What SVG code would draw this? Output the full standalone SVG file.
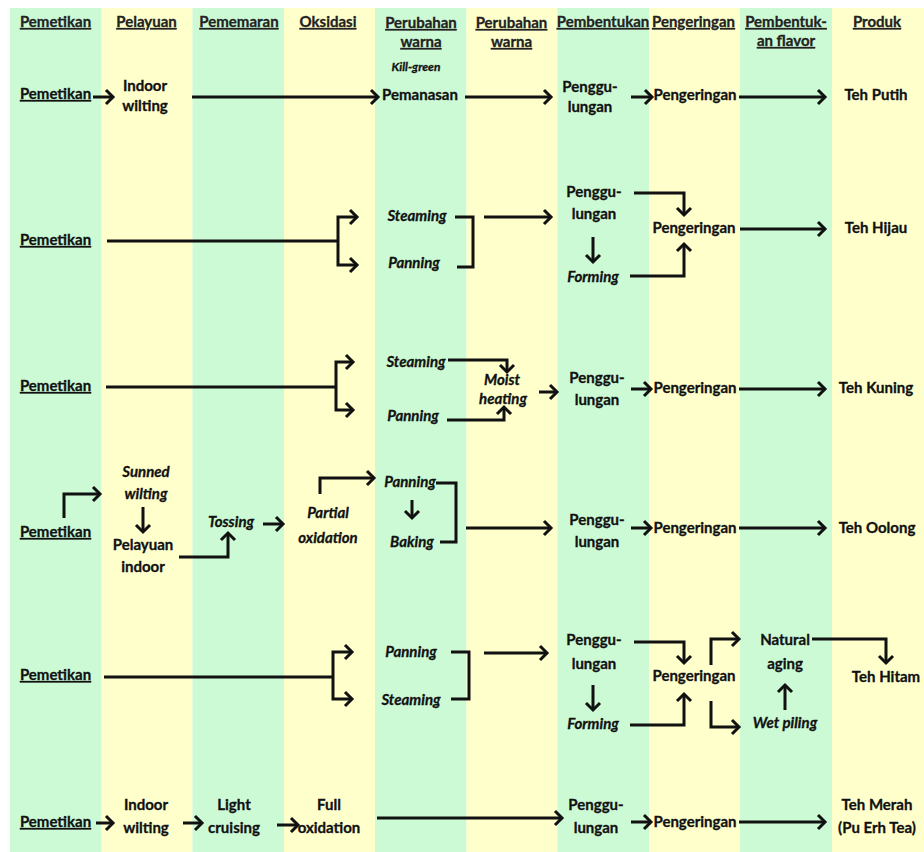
<svg xmlns="http://www.w3.org/2000/svg" width="924" height="852" viewBox="0 0 924 852">
  <defs>
    <marker id="ah" markerUnits="userSpaceOnUse" markerWidth="14" markerHeight="18" viewBox="0 0 14 18" refX="11" refY="9" orient="auto">
      <path d="M4,2 L11,9 L4,16" fill="none" stroke="#111" stroke-width="3" stroke-linejoin="miter"/>
    </marker>
  </defs>
  <style>
    text { font-family: Lato, "Liberation Sans", Arial, sans-serif; font-weight: bold; font-size: 15px; fill: #111; stroke: #111; stroke-width: 0.3px; text-anchor: middle; }
    .it { font-style: italic; }
    .sm { font-size: 12px; }
    .ul { text-decoration: underline; }
    .hd { fill: #222; stroke: #222; text-decoration: underline; }
    .g { fill: #CCFAD4; }
    .y { fill: #FFFFCC; }
    #connectors path { fill: none; stroke: #111; stroke-width: 3; }
    #connectors .a { marker-end: url(#ah); }
  </style>

  <!-- column bands -->
  <rect width="924" height="852" fill="#fff"/>
  <rect class="g" x="10" y="8" width="91.5" height="844"/>
  <rect class="y" x="101.5" y="8" width="91" height="844"/>
  <rect class="g" x="192.5" y="8" width="91.5" height="844"/>
  <rect class="y" x="284" y="8" width="91" height="844"/>
  <rect class="g" x="375" y="8" width="91.5" height="844"/>
  <rect class="y" x="466.5" y="8" width="91" height="844"/>
  <rect class="g" x="557.5" y="8" width="91.5" height="844"/>
  <rect class="y" x="649" y="8" width="91" height="844"/>
  <rect class="g" x="740" y="8" width="92" height="844"/>
  <rect class="y" x="832" y="8" width="92" height="844"/>

  <!-- column headers -->
  <g id="headers">
    <text class="hd" x="55.5" y="27">Pemetikan</text>
    <text class="hd" x="146.5" y="27">Pelayuan</text>
    <text class="hd" x="239" y="27">Pememaran</text>
    <text class="hd" x="328" y="27">Oksidasi</text>
    <text class="hd" x="421" y="28">Perubahan</text>
    <text class="hd" x="421" y="47">warna</text>
    <text class="hd" x="511.5" y="28">Perubahan</text>
    <text class="hd" x="511.5" y="47">warna</text>
    <text class="hd" x="603" y="27">Pembentukan</text>
    <text class="hd" x="693.5" y="27">Pengeringan</text>
    <text class="hd" x="786" y="27">Pembentuk-</text>
    <text class="hd" x="786" y="46">an flavor</text>
    <text class="hd" x="877" y="27">Produk</text>
  </g>

  <!-- row 1: Teh Putih -->
  <g id="r1-pemetikan"><text class="ul" x="55.5" y="99">Pemetikan</text></g>
  <g id="r1-indoor-wilting"><text x="145" y="91">Indoor</text><text x="145" y="111">wilting</text></g>
  <g id="r1-kill-green"><text class="it sm" x="416" y="71">Kill-green</text></g>
  <g id="r1-pemanasan"><text x="420" y="100">Pemanasan</text></g>
  <g id="r1-penggulungan"><text x="590" y="92">Penggu-</text><text x="590" y="112">lungan</text></g>
  <g id="r1-pengeringan"><text x="695" y="100">Pengeringan</text></g>
  <g id="r1-teh-putih"><text x="876" y="100">Teh Putih</text></g>

  <!-- row 2: Teh Hijau -->
  <g id="r2-pemetikan"><text class="ul" x="55.5" y="245">Pemetikan</text></g>
  <g id="r2-steaming"><text class="it" x="417" y="221">Steaming</text></g>
  <g id="r2-panning"><text class="it" x="414" y="268">Panning</text></g>
  <g id="r2-penggulungan"><text x="594" y="197">Penggu-</text><text x="594" y="219">lungan</text></g>
  <g id="r2-forming"><text class="it" x="593" y="282">Forming</text></g>
  <g id="r2-pengeringan"><text x="694" y="233">Pengeringan</text></g>
  <g id="r2-teh-hijau"><text x="876" y="233">Teh Hijau</text></g>

  <!-- row 3: Teh Kuning -->
  <g id="r3-pemetikan"><text class="ul" x="55.5" y="391">Pemetikan</text></g>
  <g id="r3-steaming"><text class="it" x="416" y="367">Steaming</text></g>
  <g id="r3-panning"><text class="it" x="413" y="421">Panning</text></g>
  <g id="r3-moist-heating"><text class="it" x="502" y="385">Moist</text><text class="it" x="503" y="404">heating</text></g>
  <g id="r3-penggulungan"><text x="597" y="383">Penggu-</text><text x="597" y="405">lungan</text></g>
  <g id="r3-pengeringan"><text x="695" y="393">Pengeringan</text></g>
  <g id="r3-teh-kuning"><text x="876" y="393">Teh Kuning</text></g>

  <!-- row 4: Teh Oolong -->
  <g id="r4-pemetikan"><text class="ul" x="55.5" y="537">Pemetikan</text></g>
  <g id="r4-sunned-wilting"><text class="it" x="146" y="477">Sunned</text><text class="it" x="146" y="499">wilting</text></g>
  <g id="r4-pelayuan-indoor"><text x="143" y="550">Pelayuan</text><text x="143" y="572">indoor</text></g>
  <g id="r4-tossing"><text class="it" x="231" y="527">Tossing</text></g>
  <g id="r4-partial-oxidation"><text class="it" x="328" y="518">Partial</text><text class="it" x="328" y="543">oxidation</text></g>
  <g id="r4-panning"><text class="it" x="410" y="487">Panning</text></g>
  <g id="r4-baking"><text class="it" x="412" y="547">Baking</text></g>
  <g id="r4-penggulungan"><text x="597" y="525">Penggu-</text><text x="597" y="547">lungan</text></g>
  <g id="r4-pengeringan"><text x="695" y="533">Pengeringan</text></g>
  <g id="r4-teh-oolong"><text x="877" y="533">Teh Oolong</text></g>

  <!-- row 5: Teh Hitam -->
  <g id="r5-pemetikan"><text class="ul" x="55.5" y="680">Pemetikan</text></g>
  <g id="r5-panning"><text class="it" x="411" y="657">Panning</text></g>
  <g id="r5-steaming"><text class="it" x="411" y="705">Steaming</text></g>
  <g id="r5-penggulungan"><text x="594" y="645">Penggu-</text><text x="594" y="669">lungan</text></g>
  <g id="r5-forming"><text class="it" x="593" y="729">Forming</text></g>
  <g id="r5-pengeringan"><text x="694" y="681">Pengeringan</text></g>
  <g id="r5-natural-aging"><text x="785" y="645">Natural</text><text x="785" y="669">aging</text></g>
  <g id="r5-wet-piling"><text class="it" x="785" y="728">Wet piling</text></g>
  <g id="r5-teh-hitam"><text x="886" y="682">Teh Hitam</text></g>

  <!-- row 6: Teh Merah -->
  <g id="r6-pemetikan"><text class="ul" x="55.5" y="827">Pemetikan</text></g>
  <g id="r6-indoor-wilting"><text x="146" y="810">Indoor</text><text x="146" y="833">wilting</text></g>
  <g id="r6-light-cruising"><text x="234" y="810">Light</text><text x="234" y="833">cruising</text></g>
  <g id="r6-full-oxidation"><text x="329" y="810">Full</text><text x="329" y="833">oxidation</text></g>
  <g id="r6-penggulungan"><text x="596" y="810">Penggu-</text><text x="596" y="833">lungan</text></g>
  <g id="r6-pengeringan"><text x="695" y="827">Pengeringan</text></g>
  <g id="r6-teh-merah"><text x="877" y="810">Teh Merah</text><text x="877" y="833">(Pu Erh Tea)</text></g>

  <g id="connectors">
    <!-- row 1 -->
    <path class="a" d="M93,97 H113"/>
    <path class="a" d="M192,97 H378"/>
    <path class="a" d="M465,97 H551"/>
    <path class="a" d="M631,97 H652"/>
    <path class="a" d="M739,97 H825"/>
    <!-- row 2 -->
    <path d="M107,241 H338"/>
    <path class="a" d="M338,241 V217 H357"/>
    <path class="a" d="M338,241 V265 H357"/>
    <path d="M455,217 H473 V267 H457"/>
    <path class="a" d="M484,217 H551"/>
    <path class="a" d="M593,237 V262"/>
    <path class="a" d="M634,193 H684 V215"/>
    <path class="a" d="M630,276 H684 V244"/>
    <path class="a" d="M740,229 H825"/>
    <!-- row 3 -->
    <path d="M106,387 H336"/>
    <path class="a" d="M336,387 V362 H353"/>
    <path class="a" d="M336,387 V410 H353"/>
    <path class="a" d="M448,360 H507 V372"/>
    <path class="a" d="M447,420 H504 V407"/>
    <path class="a" d="M539,392 H557"/>
    <path class="a" d="M631,389 H651"/>
    <path class="a" d="M739,389 H825"/>
    <!-- row 4 -->
    <path class="a" d="M64,518 V494 H100"/>
    <path class="a" d="M143,507 V532"/>
    <path class="a" d="M179,557 H228 V533"/>
    <path class="a" d="M263,524 H283"/>
    <path class="a" d="M320,494 V478 H374"/>
    <path class="a" d="M412,500 V518"/>
    <path d="M436,483 H456 V542 H440"/>
    <path class="a" d="M466,528 H551"/>
    <path class="a" d="M631,528 H651"/>
    <path class="a" d="M739,528 H825"/>
    <!-- row 5 -->
    <path d="M104,677 H333"/>
    <path class="a" d="M333,677 V652 H352"/>
    <path class="a" d="M333,677 V699 H352"/>
    <path d="M451,652 H469 V699 H451"/>
    <path class="a" d="M484,653 H547"/>
    <path class="a" d="M593,685 V710"/>
    <path class="a" d="M634,642 H684 V663"/>
    <path class="a" d="M630,725 H684 V694"/>
    <path class="a" d="M711,665 V639 H739"/>
    <path class="a" d="M711,701 V727 H739"/>
    <path class="a" d="M785,710 V685"/>
    <path class="a" d="M812,639 H886 V663"/>
    <!-- row 6 -->
    <path class="a" d="M96,823 H113"/>
    <path class="a" d="M183,823 H202"/>
    <path class="a" d="M277,825 H298"/>
    <path class="a" d="M377,818 H562"/>
    <path class="a" d="M631,822 H651"/>
    <path class="a" d="M739,822 H825"/>
  </g>
</svg>
